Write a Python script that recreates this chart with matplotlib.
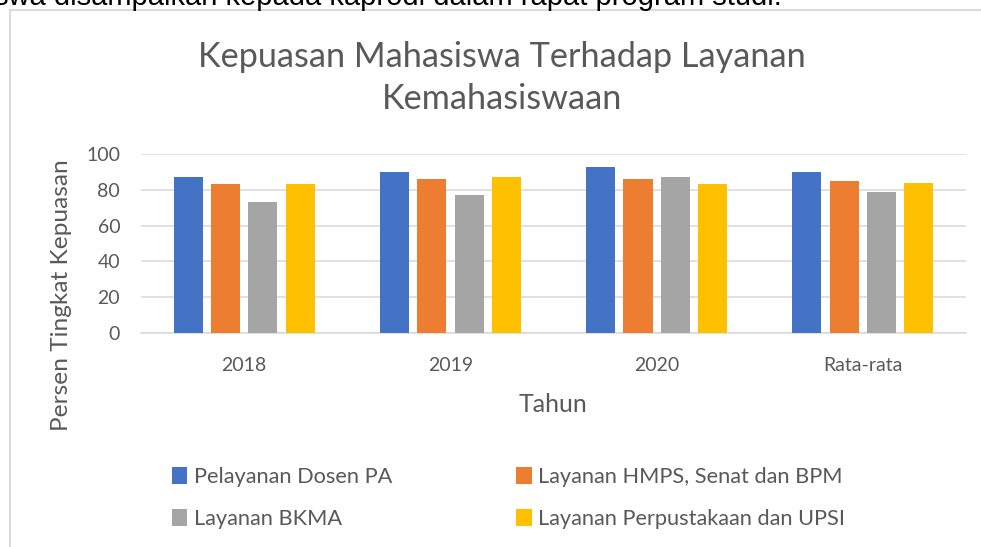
import numpy as np
import matplotlib
matplotlib.use("Agg")
import matplotlib.pyplot as plt
from matplotlib.lines import Line2D
from matplotlib.patches import Patch

plt.rcParams['font.family'] = ['Lato', 'DejaVu Sans']

# data
categories = ['2018', '2019', '2020', 'Rata-rata']
series = ['Pelayanan Dosen PA', 'Layanan HMPS, Senat dan BPM',
          'Layanan BKMA', 'Layanan Perpustakaan dan UPSI']
dosen_pa = [87, 90, 93, 90]
hmps = [83, 86, 86, 85]
bkma = [73, 77, 87, 79]
perpus = [83, 87, 83, 84]
values = [dosen_pa, hmps, bkma, perpus]
colors = ['#4472C4', '#ED7D31', '#A5A5A5', '#FFC000']

W, H = 981, 547
fig = plt.figure(figsize=(W / 100, H / 100), dpi=100)
txt = '#595959'
grid = '#D9D9D9'

# surrounding document bits (line of body text cut off above the chart)
fig.text(782 / W, 1 - 5 / H, 'swa disampaikan kepada kaprodi dalam rapat program studi.',
         ha='right', va='baseline', fontsize=21, family='Liberation Sans', color='black')
fig.add_artist(Line2D([9.5 / W, 1], [1 - 10 / H, 1 - 10 / H], color='#D4D4D4', lw=1.2))
fig.add_artist(Line2D([9.5 / W, 9.5 / W], [0, 1 - 10 / H], color='#D4D4D4', lw=1.2))

ax = fig.add_axes([141 / W, 1 - 333 / H, (966 - 141) / W, (333 - 154) / H])
x = np.arange(len(categories))
pitch, bw = 0.181, 0.141
for i, (name, vals) in enumerate(zip(series, values)):
    ax.bar(x + (i - 1.5) * pitch, vals, bw, color=colors[i], label=name, zorder=3)

ax.set_xlim(-0.5, len(categories) - 0.5)
ax.set_ylim(0, 100)
ax.set_yticks(range(0, 101, 20))
ax.set_xticks(x)
ax.set_xticklabels(categories)
ax.yaxis.grid(True, color=grid, lw=1.1, zorder=0)
for s in ['top', 'right', 'left']:
    ax.spines[s].set_visible(False)
ax.spines['bottom'].set_color(grid)
ax.spines['bottom'].set_linewidth(1.1)
ax.tick_params(axis='both', length=0, colors=txt, labelsize=14)
ax.tick_params(axis='x', pad=17.5)
ax.tick_params(axis='y', pad=15)

fig.text(502 / W, 1 - 78 / H, 'Kepuasan Mahasiswa Terhadap Layanan\nKemahasiswaan',
         ha='center', va='center', fontsize=24.7, color=txt, linespacing=1.42)
fig.text(62 / W, 1 - 295 / H, 'Persen Tingkat Kepuasan', rotation=90,
         ha='center', va='center', fontsize=17.6, color=txt)
fig.text(553 / W, 1 - 404 / H, 'Tahun', ha='center', va='center', fontsize=18, color=txt)

handles = [Patch(facecolor=c) for c in colors]
order = [0, 2, 1, 3]
fig.legend([handles[k] for k in order], [series[k] for k in order],
           loc='upper left', bbox_to_anchor=(172 / W, 1 - 467 / H), ncol=2,
           frameon=False, fontsize=15.7, handlelength=0.7, handleheight=0.85,
           handletextpad=0.3, columnspacing=5.7, borderpad=0, borderaxespad=0,
           labelspacing=1.0, labelcolor=txt)

fig.savefig('out.png', dpi=100)
